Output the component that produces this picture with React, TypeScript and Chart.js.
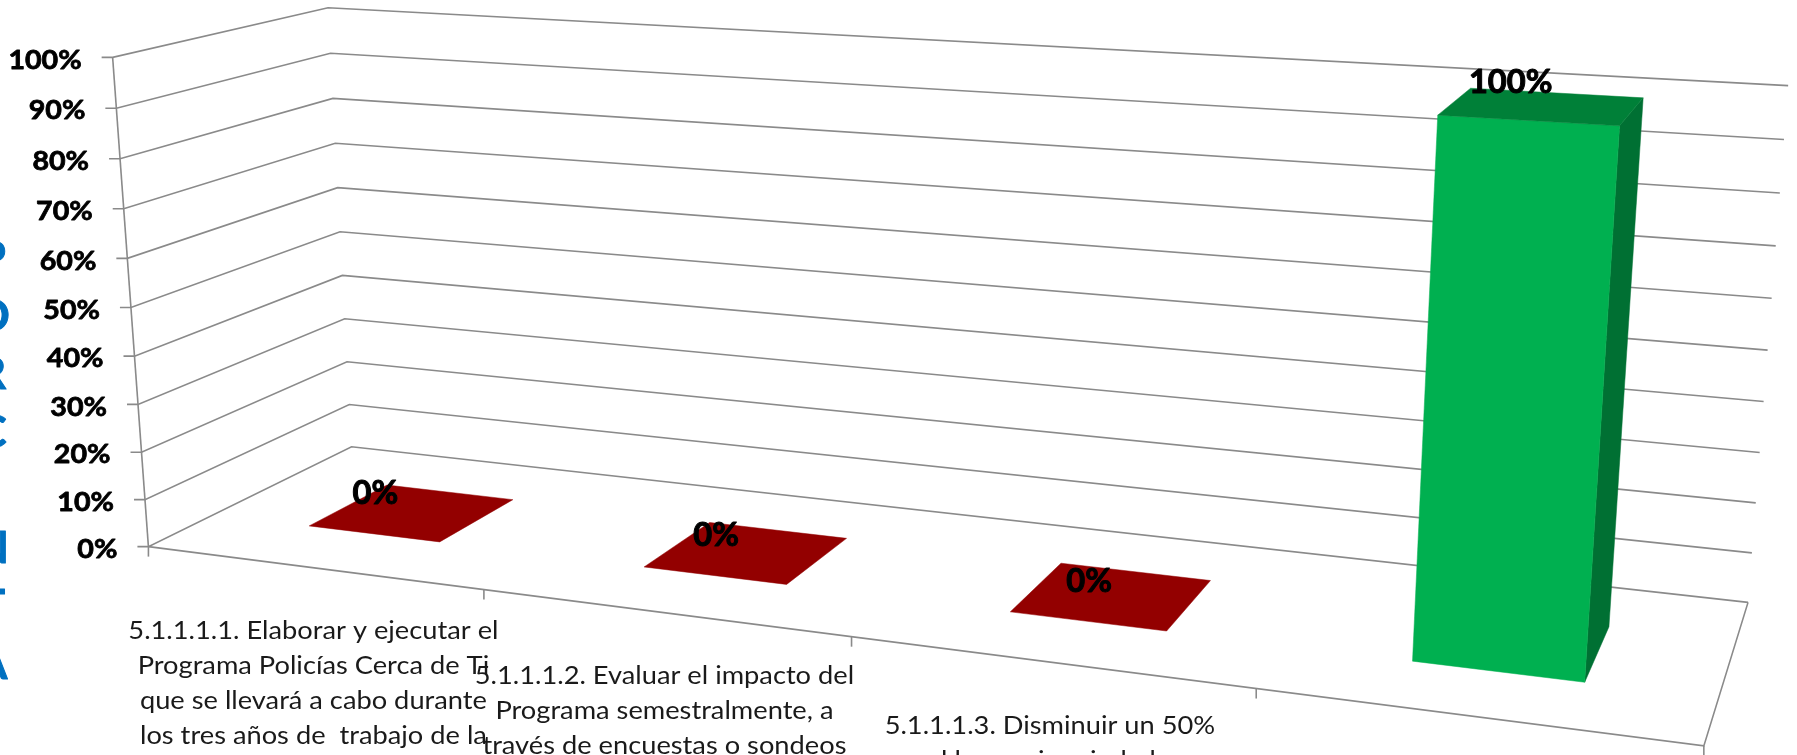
import React, { useEffect, useRef } from "react";
import { Chart, registerables } from "chart.js";

Chart.register(...registerables);

const categories: string[][] = [
  ["5.1.1.1.1. Elaborar y ejecutar el", "Programa Policías Cerca de Ti", "que se llevará a cabo durante", "los tres años de  trabajo de la"],
  ["5.1.1.1.2. Evaluar el impacto del", "Programa semestralmente, a", "través de encuestas o sondeos"],
  ["5.1.1.1.3. Disminuir un 50%", "en el las quejas ciudadanas"],
  [""],
];
const values = [0, 0, 0, 1];
const frontColors = ["#990000", "#990000", "#990000", "#00B050"];
const topColors = ["#930000", "#930000", "#930000", "#008038"];
const sideColors = ["#7A0000", "#7A0000", "#7A0000", "#007033"];
const titleLetters = ["P", "O", "R", "C", "E", "N", "T", "A", "J", "E"];

const GRID = "#8A8A8A";
const FONT = "Lato, Carlito, sans-serif";
const DEPTH_NEAR = 0.3;
const DEPTH_FAR = 0.7;

// Camera calibration: [u, depth, height] -> screen
const calib: number[][] = [
  [0, 0, 0, 149.3, 546.5], [0, 0, 0.5, 131.6, 307], [0, 0, 1, 112, 57.8],
  [0, 1, 0, 351.3, 447], [0, 1, 0.5, 340, 231.6], [0, 1, 1, 328.4, 7.2],
  [1, 1, 0, 1748, 602], [1, 1, 0.5, 1767.7, 351], [1, 1, 1, 1788, 85.7],
  [1, 0, 0, 1704, 745],
  [0.25, 0, 0, 482.6, 590], [0.5, 0, 0, 851, 637.7], [0.75, 0, 0, 1257, 688],
];

function solveCamera(): number[] {
  const n = 11;
  const A = Array.from({ length: n }, () => new Array(n + 1).fill(0));
  const add = (row: number[], rhs: number) => {
    for (let i = 0; i < n; i++) {
      for (let j = 0; j < n; j++) A[i][j] += row[i] * row[j];
      A[i][n] += row[i] * rhs;
    }
  };
  for (const [u, d, v, sx, sy] of calib) {
    const x = sx / 1000, y = sy / 1000;
    add([u, d, v, 1, 0, 0, 0, 0, -x * u, -x * d, -x * v], x);
    add([0, 0, 0, 0, u, d, v, 1, -y * u, -y * d, -y * v], y);
  }
  for (let c = 0; c < n; c++) {
    let best = c;
    for (let r = c + 1; r < n; r++) if (Math.abs(A[r][c]) > Math.abs(A[best][c])) best = r;
    [A[c], A[best]] = [A[best], A[c]];
    for (let r = 0; r < n; r++) {
      if (r === c) continue;
      const f = A[r][c] / A[c][c];
      for (let k = c; k <= n; k++) A[r][k] -= f * A[c][k];
    }
  }
  return A.map((row, i) => row[n] / row[i]);
}
const cam = solveCamera();
const project = (u: number, d: number, v: number): [number, number] => {
  const w = cam[8] * u + cam[9] * d + cam[10] * v + 1;
  return [
    (1000 * (cam[0] * u + cam[1] * d + cam[2] * v + cam[3])) / w,
    (1000 * (cam[4] * u + cam[5] * d + cam[6] * v + cam[7])) / w,
  ];
};

const poly = (ctx: CanvasRenderingContext2D, pts: [number, number][], fill: string) => {
  ctx.beginPath();
  pts.forEach((p, i) => (i ? ctx.lineTo(p[0], p[1]) : ctx.moveTo(p[0], p[1])));
  ctx.closePath();
  ctx.fillStyle = fill;
  ctx.fill();
  ctx.strokeStyle = fill;
  ctx.lineWidth = 0.5;
  ctx.stroke();
};
const line = (ctx: CanvasRenderingContext2D, pts: [number, number][]) => {
  ctx.beginPath();
  pts.forEach((p, i) => (i ? ctx.lineTo(p[0], p[1]) : ctx.moveTo(p[0], p[1])));
  ctx.stroke();
};
// text widened like the reference; embolden adds weight with an outline
const label = (ctx: CanvasRenderingContext2D, s: string, x: number, y: number, stretch: number, embolden = 0) => {
  ctx.save();
  ctx.translate(x, y);
  ctx.scale(stretch, 1);
  if (embolden) {
    ctx.lineWidth = embolden;
    ctx.lineJoin = "round";
    ctx.strokeStyle = ctx.fillStyle as string;
    ctx.strokeText(s, 0, 0);
  }
  ctx.fillText(s, 0, 0);
  ctx.restore();
};

const perspectivePlugin = {
  id: "perspective",
  beforeDatasetDraw(chart: any) {
    const { ctx, chartArea: a, scales } = chart;
    const xs = scales.x, ys = scales.y;
    const U = (px: number) => (px - a.left) / (a.right - a.left);
    const V = (py: number) => (a.bottom - py) / (a.bottom - a.top);
    ctx.save();
    ctx.lineCap = "butt";

    // walls: value gridlines and their ticks and labels
    ys.ticks.forEach((t: any) => {
      const v = V(ys.getPixelForValue(t.value));
      const p = project(0, 0, v);
      ctx.strokeStyle = GRID;
      ctx.lineWidth = 1.6;
      line(ctx, [[p[0] - 11, p[1]], p, project(0, 1, v), project(1, 1, v)]);
      ctx.font = `bold 27px ${FONT}`;
      ctx.fillStyle = "#000";
      ctx.textAlign = "right";
      ctx.textBaseline = "middle";
      label(ctx, `${Math.round(t.value * 100)}%`, p[0] - 31, p[1] + 2.5, 1.06, 0.8);
    });
    ctx.strokeStyle = GRID;
    ctx.lineWidth = 1.6;
    line(ctx, [project(0, 0, 0), project(0, 0, 1)]);

    // floor outline
    line(ctx, [project(0, 0, 0), project(1, 0, 0), project(1, 1, 0)]);

    // category ticks and labels
    const half = (xs.getPixelForValue(1) - xs.getPixelForValue(0)) / 2;
    for (let i = 0; i <= categories.length; i++) {
      const u = U(xs.getPixelForValue(i) - half);
      const p = project(u, 0, 0);
      line(ctx, [p, [p[0], p[1] + 10]]);
    }
    ctx.font = `25px ${FONT}`;
    ctx.fillStyle = "#1a1a1a";
    ctx.textAlign = "center";
    ctx.textBaseline = "middle";
    categories.forEach((lines, i) => {
      const p = project(U(xs.getPixelForValue(i)), 0, 0);
      lines.forEach((s, k) => label(ctx, s, p[0] + 1, p[1] + 63.5 + k * 35, 1.09));
    });

    // bars, from the library's own elements
    const meta = chart.getDatasetMeta(0);
    meta.data.forEach((el: any, i: number) => {
      const { x, y, base, width } = el.getProps(["x", "y", "base", "width"], true);
      const u0 = U(x - width / 2), u1 = U(x + width / 2);
      const v0 = V(base), v1 = V(y);
      const [n, f] = [DEPTH_NEAR, DEPTH_FAR];
      if (v1 > v0) {
        poly(ctx, [project(u1, n, v0), project(u1, f, v0), project(u1, f, v1), project(u1, n, v1)], sideColors[i]);
        poly(ctx, [project(u0, n, v0), project(u1, n, v0), project(u1, n, v1), project(u0, n, v1)], frontColors[i]);
      }
      poly(ctx, [project(u0, n, v1), project(u1, n, v1), project(u1, f, v1), project(u0, f, v1)], topColors[i]);
    });

    // value labels
    ctx.font = `bold 32px ${FONT}`;
    ctx.fillStyle = "#000";
    ctx.textAlign = "center";
    meta.data.forEach((el: any, i: number) => {
      const { x, y } = el.getProps(["x", "y"], true);
      const v = V(y);
      const p = project(U(x), DEPTH_NEAR, v);
      label(ctx, `${Math.round(values[i] * 100)}%`, p[0] + 1.4 - 18.4 * v, p[1] - 40 + 2 * v, 1.02, 1);
    });

    // stacked axis title, cut by the left edge of the picture
    ctx.font = `bold 44px ${FONT}`;
    ctx.fillStyle = "#0070C0";
    titleLetters.forEach((s, i) => label(ctx, s, s === "E" ? -15 : -8, 259 + i * 58, 1, 1));

    ctx.restore();
    return false;
  },
};

export default function App() {
  const ref = useRef<HTMLCanvasElement>(null);
  useEffect(() => {
    const chart = new Chart(ref.current as HTMLCanvasElement, {
      type: "bar",
      data: {
        labels: categories,
        datasets: [{ data: values, backgroundColor: frontColors, barPercentage: 0.4, categoryPercentage: 1 }],
      },
      options: {
        animation: false,
        responsive: false,
        layout: { padding: 0 },
        plugins: { legend: { display: false }, tooltip: { enabled: false } },
        scales: {
          x: { display: false, offset: true },
          y: { display: false, min: 0, max: 1, ticks: { stepSize: 0.1 } },
        },
      },
      plugins: [perspectivePlugin],
    } as any);
    return () => chart.destroy();
  }, []);
  return (
    <div style={{ position: "fixed", inset: 0, background: "#fff", overflow: "hidden" }}>
      <canvas ref={ref} width={1797} height={755} style={{ display: "block" }} />
    </div>
  );
}
